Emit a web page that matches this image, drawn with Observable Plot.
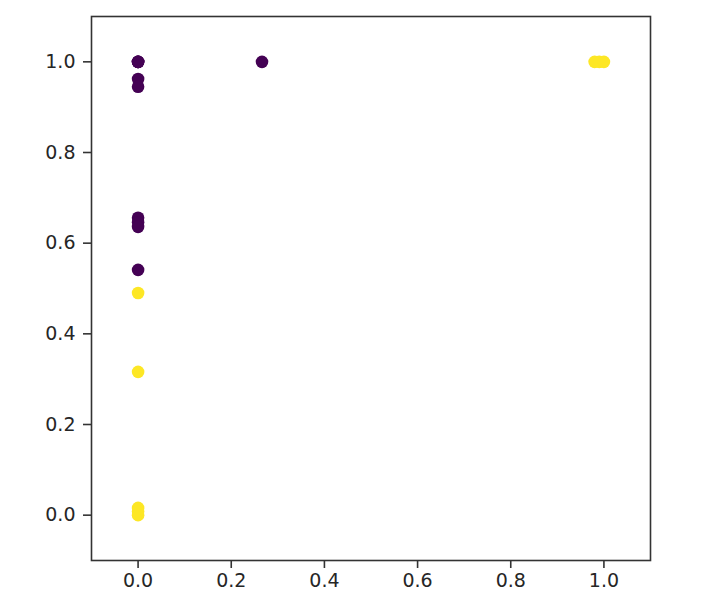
<!DOCTYPE html>
<html>
<head>
<meta charset="utf-8">
<script src="https://cdn.jsdelivr.net/npm/d3@7"></script>
<script src="https://cdn.jsdelivr.net/npm/@observablehq/plot@0.6"></script>
<style>
  html, body { margin: 0; padding: 0; background: #fff; }
  #chart svg { display: block; }
</style>
</head>
<body>
<div id="chart"></div>
<script>
// Class 0 (dark purple) points
const purpleX = [0, 0, 0, 0, 0, 0, 0, 0, 0, 0, 0.266];
const purpleY = [1.0, 1.0, 1.0, 0.962, 0.945, 0.656, 0.646, 0.636, 0.541, 1.0, 1.0];
// Class 1 (yellow) points
const yellowX = [0, 0, 0, 0, 0, 0.98, 0.99, 1.0];
const yellowY = [0.49, 0.316, 0.016, 0.008, 0.0, 1.0, 1.0, 1.0];
const tickValues = [0.0, 0.2, 0.4, 0.6, 0.8, 1.0];

const classNames = ["0", "1"];
const classColors = ["#440154", "#fde725"];

const data = [
  ...purpleX.map((x, i) => ({x, y: purpleY[i], c: classNames[0]})),
  ...yellowX.map((x, i) => ({x, y: yellowY[i], c: classNames[1]}))
];

const ink = "#262626";
const chart = Plot.plot({
  width: 710,
  height: 612,
  marginLeft: 91,
  marginRight: 60,
  marginTop: 16,
  marginBottom: 52,
  style: {fontFamily: "DejaVu Sans", fontSize: "19px", color: ink, background: "#fff"},
  x: {domain: [-0.1, 1.1], label: null},
  y: {domain: [-0.1, 1.1], label: null},
  color: {domain: classNames, range: classColors},
  marks: [
    Plot.dot(data, {x: "x", y: "y", fill: "c", r: 6.3, stroke: null}),
    Plot.frame({stroke: "#333", strokeWidth: 1.6}),
    Plot.axisX({ticks: tickValues, tickFormat: d3.format(".1f"), tickSize: 8, tickPadding: 5, stroke: "#333", strokeWidth: 1.6, fill: ink, fontSize: 19}),
    Plot.axisY({ticks: tickValues, tickFormat: d3.format(".1f"), tickSize: 8, tickPadding: 8, stroke: "#333", strokeWidth: 1.6, fill: ink, fontSize: 19})
  ]
});
document.getElementById("chart").appendChild(chart);
</script>
</body>
</html>
